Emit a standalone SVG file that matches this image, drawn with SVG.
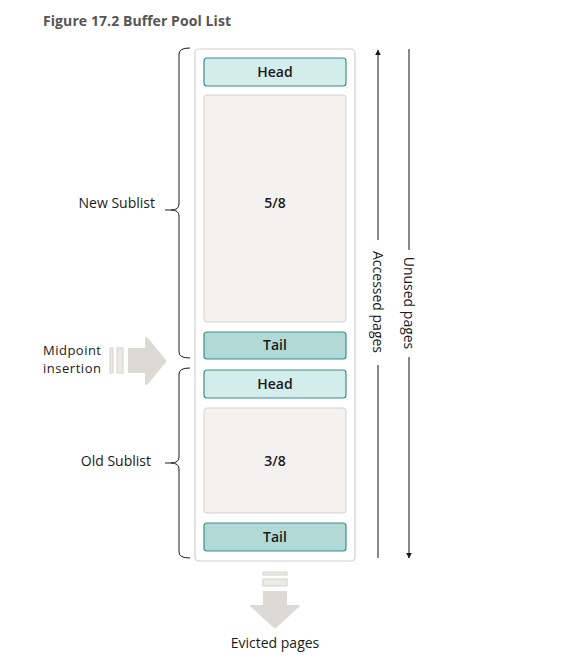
<svg xmlns="http://www.w3.org/2000/svg" width="564" height="659" viewBox="0 0 564 659">
<defs>
<style>
.t{font-family:"Open Sans","Noto Sans",sans-serif;fill:#1a1a1a}
.lbl{font-size:14px;font-weight:600;text-anchor:middle}
.side{font-size:14px}
.mid{font-size:13px}
.head{fill:#d3ecec;stroke:#3f8d88;stroke-width:1.2}
.tail{fill:#b1dad6;stroke:#3f8d88;stroke-width:1.2}
.page{fill:#f3f2f0;stroke:#d4d2ce;stroke-width:1}
.br{fill:none;stroke:#1a1a1a;stroke-width:1}
.ar{stroke:#555;stroke-width:1.4;fill:none}
.ga{fill:#dcdad5}
.gs{fill:#eceae6;stroke:#d4d2cd;stroke-width:1}
</style>
<marker id="ah" viewBox="0 0 10 10" refX="9" refY="5" markerWidth="6" markerHeight="7" orient="auto" markerUnits="userSpaceOnUse">
<path d="M0,0 L10,5 L0,10 z" fill="#1a1a1a"/>
</marker>
</defs>
<rect width="564" height="659" fill="#ffffff"/>
<text x="43" y="26" class="t" style="font-size:14px;font-weight:700;fill:#555" textLength="188">Figure 17.2 Buffer Pool List</text>

<g id="container"><rect x="195" y="49" width="160" height="512" rx="4" fill="#fff" stroke="#d3d0cb" stroke-width="1.2"/></g>

<g id="head1"><rect class="head" x="204" y="58" width="142" height="28" rx="3"/><text class="t lbl" x="275" y="77">Head</text></g>
<g id="new-pages"><rect class="page" x="204" y="95" width="142" height="227" rx="3"/><text class="t lbl" x="275" y="208">5/8</text></g>
<g id="tail1"><rect class="tail" x="204" y="332" width="142" height="27" rx="3"/><text class="t lbl" x="275" y="350">Tail</text></g>
<g id="head2"><rect class="head" x="204" y="370" width="142" height="28" rx="3"/><text class="t lbl" x="275" y="389">Head</text></g>
<g id="old-pages"><rect class="page" x="204" y="408" width="142" height="105" rx="3"/><text class="t lbl" x="275" y="466">3/8</text></g>
<g id="tail2"><rect class="tail" x="204" y="523" width="142" height="28" rx="3"/><text class="t lbl" x="275" y="542">Tail</text></g>

<g id="new-sublist">
<path class="br" d="M190,48 Q179,48 179,54 L179,204 Q179,210 171,210 Q179,210 179,216 L179,352 Q179,358 190,358"/>
<line class="br" x1="165" y1="210" x2="171" y2="210"/>
<text class="t side" x="155" y="208" text-anchor="end">New Sublist</text>
</g>
<g id="old-sublist">
<path class="br" d="M190,368 Q179,368 179,374 L179,457 Q179,463 171,463 Q179,463 179,469 L179,552 Q179,558 190,558"/>
<line class="br" x1="165" y1="463" x2="171" y2="463"/>
<text class="t side" x="151" y="466" text-anchor="end">Old Sublist</text>
</g>

<g id="midpoint">
<text class="t mid" x="43" y="355" textLength="58">Midpoint</text>
<text class="t mid" x="43" y="373" textLength="58">insertion</text>
<rect class="gs" x="110" y="348" width="3" height="25"/>
<rect class="gs" x="117" y="348" width="6" height="25"/>
<path class="ga" d="M128,348 L145,348 L145,338 Q146,336 148,338 L166,360 Q167,361 166,362 L148,384 Q146,386 145,384 L145,373 L128,373 z"/>
</g>

<g id="evicted">
<rect class="gs" x="263" y="572" width="24" height="3"/>
<rect class="gs" x="263" y="579" width="24" height="7"/>
<path class="ga" d="M263,591 L287,591 L287,605 L299,605 Q301,605 299,607 L276,628 Q275,629 274,628 L251,607 Q249,605 251,605 L263,605 z"/>
<text class="t side" x="275" y="648" text-anchor="middle">Evicted pages</text>
</g>

<g id="connectors">
<line class="ar" x1="378" y1="558" x2="378" y2="365"/>
<line class="ar" x1="378" y1="240" x2="378" y2="50" marker-end="url(#ah)"/>
<line class="ar" x1="409" y1="49" x2="409" y2="250"/>
<line class="ar" x1="409" y1="357" x2="409" y2="558" marker-end="url(#ah)"/>
<text class="t side" transform="translate(373,302) rotate(90)" text-anchor="middle">Accessed pages</text>
<text class="t side" transform="translate(404,303) rotate(90)" text-anchor="middle">Unused pages</text>
</g>
</svg>
